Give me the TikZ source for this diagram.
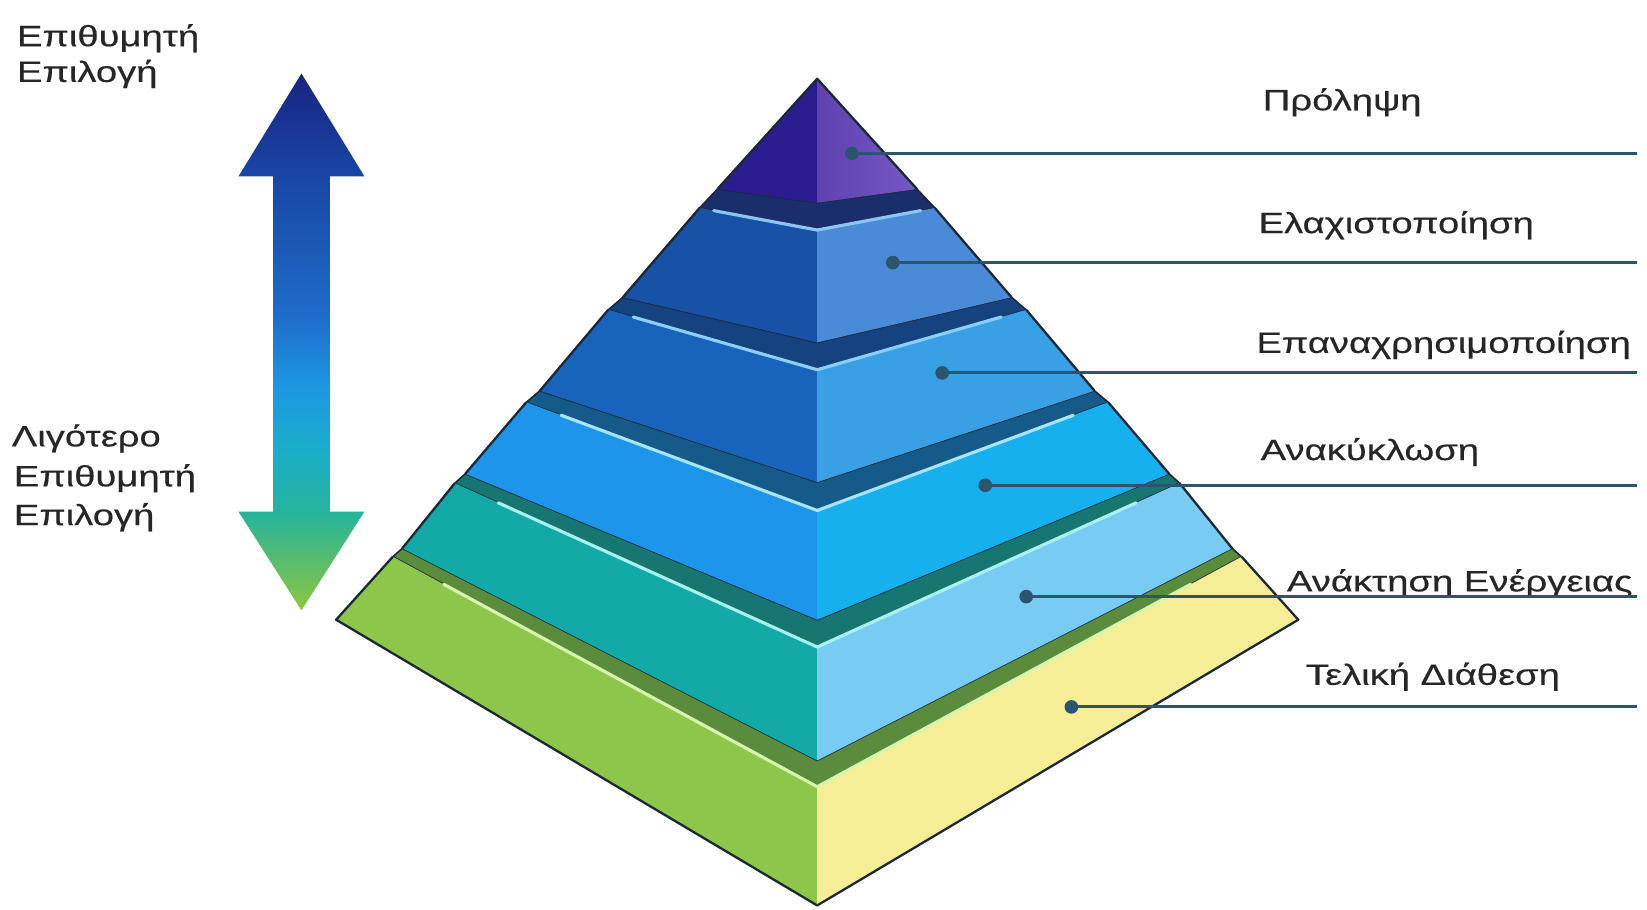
\documentclass[tikz,border=0pt]{standalone}
\usepackage{fontspec}
\setmainfont{Liberation Sans}[FakeBold=0.35]
\usepackage{graphicx}
\usetikzlibrary{calc}

\definecolor{txtc}{HTML}{262626}
\definecolor{connc}{HTML}{2A5470}
\definecolor{outc}{HTML}{1C2836}
% arrow gradient
\definecolor{arrN}{HTML}{1A2380}
\definecolor{arrH}{HTML}{1846A6}
\definecolor{arrM}{HTML}{1F6CC8}
\definecolor{arrB}{HTML}{1C98E2}
\definecolor{arrC}{HTML}{1AAEC8}
\definecolor{arrT}{HTML}{27B49A}
\definecolor{arrG}{HTML}{8DC63F}
% layers
\definecolor{AL}{HTML}{2B1D8F}\definecolor{ARa}{HTML}{5E42B0}\definecolor{ARb}{HTML}{7658C4}
\definecolor{BL}{HTML}{1752A6}\definecolor{BR}{HTML}{4A8BD8}
\definecolor{CL}{HTML}{1863BC}\definecolor{CR}{HTML}{3AA0E6}
\definecolor{DL}{HTML}{1C95EA}\definecolor{DR}{HTML}{16B0EE}
\definecolor{EL}{HTML}{12A9A6}\definecolor{ER}{HTML}{78CBF2}
\definecolor{FL}{HTML}{8DC64B}\definecolor{FR}{HTML}{F6ED97}
\definecolor{lAB}{HTML}{1A2E6C}
\definecolor{lBC}{HTML}{15437F}
\definecolor{lCD}{HTML}{155A88}
\definecolor{lDE}{HTML}{177670}
\definecolor{lEF}{HTML}{5A8C3C}
\definecolor{hB}{HTML}{8CC4F4}
\definecolor{hC}{HTML}{8AD0FA}
\definecolor{hD}{HTML}{A6E4FF}
\definecolor{hE}{HTML}{A8F2F0}
\definecolor{hF}{HTML}{D8F5B0}

\pgfdeclareverticalshading{arrowshade}{100bp}{color(0bp)=(arrG); color(25bp)=(arrG); color(33.9bp)=(arrT); color(39.8bp)=(arrC); color(45.6bp)=(arrB); color(52.5bp)=(arrM); color(65.4bp)=(arrH); color(75bp)=(arrN); color(100bp)=(arrN)}

\newcommand\mklayer[7]{%
  \coordinate (#1tl) at ({778-#2},#3);
  \coordinate (#1tf) at (778,#4);
  \coordinate (#1tr) at ({778+#2},#3);
  \coordinate (#1bl) at ({778-#5},#6);
  \coordinate (#1bf) at (778,#7);
  \coordinate (#1br) at ({778+#5},#6);
}
\newcommand\wtext[1]{\scalebox{1.3}[1]{#1}}

\begin{document}
\begin{tikzpicture}[x=1pt,y=-1pt,
  lbl/.style={anchor=base west, inner sep=0pt, font=\fontsize{28}{34}\selectfont, text=txtc},
  conn/.style={draw=connc, line width=2.8pt},
  dotc/.style={fill=connc},
  outl/.style={draw=outc, line width=2.2pt, line join=round},
  hil/.style={line width=3pt, line cap=round, line join=round}]
\useasboundingbox (0,0) rectangle (1568,866);
\fill[white] (0,0) rectangle (1568,866);

% ---- layer coordinates
\coordinate (Aa) at (778,75);
\coordinate (Abl) at (683,180);
\coordinate (Abf) at (778,193);
\coordinate (Abr) at (873,180);
\mklayer{B}{112}{198}{219}{185}{283}{326}
\mklayer{C}{199}{295}{352}{264}{372}{459}
\mklayer{D}{277}{383}{486}{335}{451}{590}
\mklayer{E}{345}{460}{616}{395}{522}{724}
\mklayer{F}{404}{530}{749}{458}{590}{862}

% ---- ledges
\filldraw[fill=lAB, draw=outc, line width=1.5pt, line join=round] (Btl)--(Btf)--(Btr)--(Abr)--(Abf)--(Abl)--cycle;
\filldraw[fill=lBC, draw=outc, line width=1.5pt, line join=round] (Ctl)--(Ctf)--(Ctr)--(Bbr)--(Bbf)--(Bbl)--cycle;
\filldraw[fill=lCD, draw=outc, line width=1.5pt, line join=round] (Dtl)--(Dtf)--(Dtr)--(Cbr)--(Cbf)--(Cbl)--cycle;
\filldraw[fill=lDE, draw=outc, line width=1.5pt, line join=round] (Etl)--(Etf)--(Etr)--(Dbr)--(Dbf)--(Dbl)--cycle;
\filldraw[fill=lEF, draw=outc, line width=1.5pt, line join=round] (Ftl)--(Ftf)--(Ftr)--(Ebr)--(Ebf)--(Ebl)--cycle;

% ---- faces
\fill[AL] (Aa)--(Abl)--(Abf)--cycle;
\shade[left color=ARa, right color=ARb] (Aa)--(Abf)--(Abr)--cycle;
\foreach \n in {B,C,D,E,F}{
  \fill[\n L] (\n tl)--(\n tf)--(\n bf)--(\n bl)--cycle;
  \fill[\n R] (\n tf)--(\n tr)--(\n br)--(\n bf)--cycle;
}

% ---- highlights
\foreach \n in {B,C,D,E,F}{
  \draw[hil, h\n] ($(\n tl)!0.12!(\n tf)$)--(\n tf)--($(\n tf)!0.88!(\n tr)$);
}

% ---- outlines
\draw[outl] (Abl)--(Aa)--(Abr);
\foreach \n in {B,C,D,E}{
  \draw[outl] (\n tl)--(\n bl);
  \draw[outl] (\n tr)--(\n br);
}
\draw[outl] (Ftl)--(Fbl)--(Fbf)--(Fbr)--(Ftr);

% ---- double arrow
\shade[shading=arrowshade]
  (287,70)--(347,168)--(314,168)--(314,487)--(347,487)--(287,581)
  --(227,487)--(260,487)--(260,168)--(227,168)--cycle;

% ---- left labels
\node[lbl] (lt1) at (16,44) {\wtext{Επιθυμητή}};
\node[lbl] (lt2) at (16,78) {\wtext{Επιλογή}};
\node[lbl] (lb1) at (11,425) {\wtext{Λιγότερο}};
\node[lbl] (lb2) at (13,463) {\wtext{Επιθυμητή}};
\node[lbl] (lb3) at (13,500) {\wtext{Επιλογή}};

% ---- right labels
\node[lbl] (t1) at (1202,105) {\wtext{Πρόληψη}};
\node[lbl] (t2) at (1198,222) {\wtext{Ελαχιστοποίηση}};
\node[lbl] (t3) at (1196,336) {\wtext{Επαναχρησιμοποίηση}};
\node[lbl] (t4) at (1200,438) {\wtext{Ανακύκλωση}};
\node[lbl] (t5) at (1225,563) {\wtext{Ανάκτηση Ενέργειας}};
\node[lbl] (t6) at (1243,652) {\wtext{Τελική Διάθεση}};

% ---- connectors
\coordinate (d1) at (811,146); \coordinate (e1) at (1558,146);
\coordinate (d2) at (850,250); \coordinate (e2) at (1558,250);
\coordinate (d3) at (897,355); \coordinate (e3) at (1558,355);
\coordinate (d4) at (938,462); \coordinate (e4) at (1558,462);
\coordinate (d5) at (977,568); \coordinate (e5) at (1558,568);
\coordinate (d6) at (1020,673); \coordinate (e6) at (1558,673);
\foreach \i in {1,...,6}{
  \draw[conn] (d\i) -- (e\i);
  \fill[dotc] (d\i) circle[radius=6.5];
}
\end{tikzpicture}
\end{document}
